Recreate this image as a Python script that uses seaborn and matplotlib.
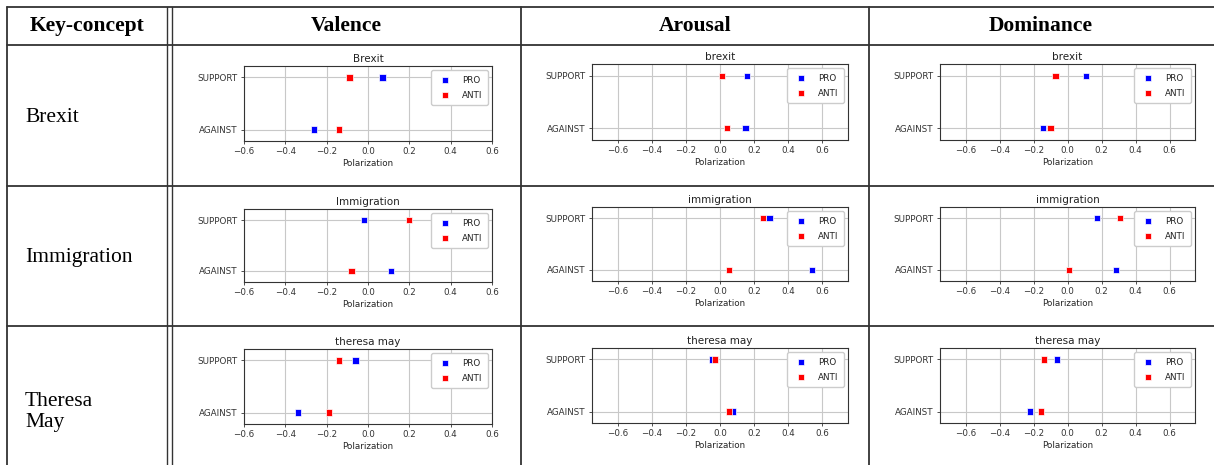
import matplotlib
matplotlib.use("Agg")
import matplotlib.pyplot as plt
from matplotlib.lines import Line2D
import numpy as np
import pandas as pd
import seaborn as sns

# --- data ------------------------------------------------------------------
topics = ["Brexit", "Immigration", "Theresa\nMay"]
dimensions = ["Valence", "Arousal", "Dominance"]
cell_titles = {
    "Valence": ["Brexit", "Immigration", "theresa may"],
    "Arousal": ["brexit", "immigration", "theresa may"],
    "Dominance": ["brexit", "immigration", "theresa may"],
}
stances = ["AGAINST", "SUPPORT"]
groups = ["PRO", "ANTI"]

valence_pro_support = [0.07, -0.02, -0.06]
valence_pro_against = [-0.26, 0.11, -0.34]
valence_anti_support = [-0.09, 0.20, -0.14]
valence_anti_against = [-0.14, -0.08, -0.19]

arousal_pro_support = [0.16, 0.29, -0.045]
arousal_pro_against = [0.15, 0.54, 0.075]
arousal_anti_support = [0.01, 0.25, -0.03]
arousal_anti_against = [0.04, 0.055, 0.055]

dominance_pro_support = [0.11, 0.175, -0.06]
dominance_pro_against = [-0.145, 0.285, -0.22]
dominance_anti_support = [-0.07, 0.31, -0.14]
dominance_anti_against = [-0.10, 0.01, -0.155]

values = {
    "Valence": (valence_pro_support, valence_pro_against, valence_anti_support, valence_anti_against),
    "Arousal": (arousal_pro_support, arousal_pro_against, arousal_anti_support, arousal_anti_against),
    "Dominance": (dominance_pro_support, dominance_pro_against, dominance_anti_support, dominance_anti_against),
}
xlims = {"Valence": (-0.6, 0.6), "Arousal": (-0.75, 0.75), "Dominance": (-0.75, 0.75)}
palette = {"PRO": "#0000ff", "ANTI": "#ff0000"}

# --- layout (pixels) --------------------------------------------------------
W, H = 1214, 465
col_x = {"Valence": (244, 492), "Arousal": (592, 848), "Dominance": (940, 1195)}
row_y = {
    "Valence": [(66, 141), (209, 282), (349, 424)],
    "Arousal": [(64, 140), (207, 281), (348, 423)],
    "Dominance": [(64, 140), (207, 281), (348, 423)],
}

sns.set_theme(style="ticks", rc={
    "axes.grid": True,
    "grid.color": "#c8c8c8",
    "grid.linewidth": 0.8,
    "axes.edgecolor": "#333333",
    "axes.linewidth": 0.8,
    "xtick.major.size": 2.5,
    "ytick.major.size": 2.5,
    "xtick.major.width": 0.6,
    "ytick.major.width": 0.6,
    "xtick.color": "#333333",
    "ytick.color": "#333333",
    "text.color": "#222222",
})
plt.rcParams["font.family"] = ["DejaVu Sans"]

fig = plt.figure(figsize=(W / 100, H / 100), dpi=100)


def px_rect(l, t, r, b):
    return [l / W, 1 - b / H, (r - l) / W, (b - t) / H]


def line(x0, y0, x1, y1, lw=1.0):
    fig.add_artist(Line2D([x0 / W, x1 / W], [1 - y0 / H, 1 - y1 / H],
                          transform=fig.transFigure, color="#333333", linewidth=lw))


for dim in dimensions:
    pro_sup, pro_ag, anti_sup, anti_ag = values[dim]
    for i in range(len(topics)):
        df = pd.DataFrame({
            "polarization": [pro_ag[i], pro_sup[i], anti_ag[i], anti_sup[i]],
            "stance": [0, 1, 0, 1],
            "group": ["PRO", "PRO", "ANTI", "ANTI"],
        })
        t, b = row_y[dim][i]
        l, r = col_x[dim]
        ax = fig.add_axes(px_rect(l, t, r, b))
        sns.scatterplot(data=df, x="polarization", y="stance", hue="group", hue_order=groups,
                        palette=palette, marker="s", s=20, linewidth=0.5, edgecolor="#ffffff",
                        ax=ax, zorder=3)
        ax.set_xlim(*xlims[dim])
        ax.set_ylim(-0.22, 1.22)
        ax.set_xticks(np.round(np.arange(-0.6, 0.61, 0.2), 1))
        ax.set_yticks([0, 1], labels=stances)
        ax.tick_params(labelsize=6.3, pad=2)
        ax.set_xlabel("Polarization", fontsize=6.3, labelpad=2)
        ax.set_ylabel("")
        ax.set_title(cell_titles[dim][i], fontsize=7.5, pad=3)
        handles, labels = ax.get_legend_handles_labels()
        ax.legend(handles, labels, loc="upper right", fontsize=6.3, markerscale=1.1,
                  handletextpad=0.9, borderpad=0.6, labelspacing=0.7, frameon=True,
                  edgecolor="#cccccc", framealpha=1.0)

# --- table frame and text ---------------------------------------------------
line(7, 7, W, 7, 1.3)
line(7, 45, W, 45, 1.3)
line(7, 186, W, 186, 1.3)
line(7, 326, W, 326, 1.3)
for x in (7, 167, 172, 521, 869):
    line(x, 7, x, H, 1.0 if x in (167, 172) else 1.3)

serif = ["Liberation Serif", "DejaVu Serif"]
header_centers = [87, 346, 695, 1041]
for xc, txt in zip(header_centers, ["Key-concept"] + dimensions):
    fig.text(xc / W, 1 - 26 / H, txt, ha="center", va="center", fontsize=15.5,
             fontweight="bold", family=serif, color="black")

row_centers = [117, 257, 412]
for yc, txt in zip(row_centers, topics):
    fig.text(25 / W, 1 - yc / H, txt, ha="left", va="center", fontsize=15.5,
             family=serif, color="black", linespacing=1.1)

fig.savefig("out.png", dpi=100)
